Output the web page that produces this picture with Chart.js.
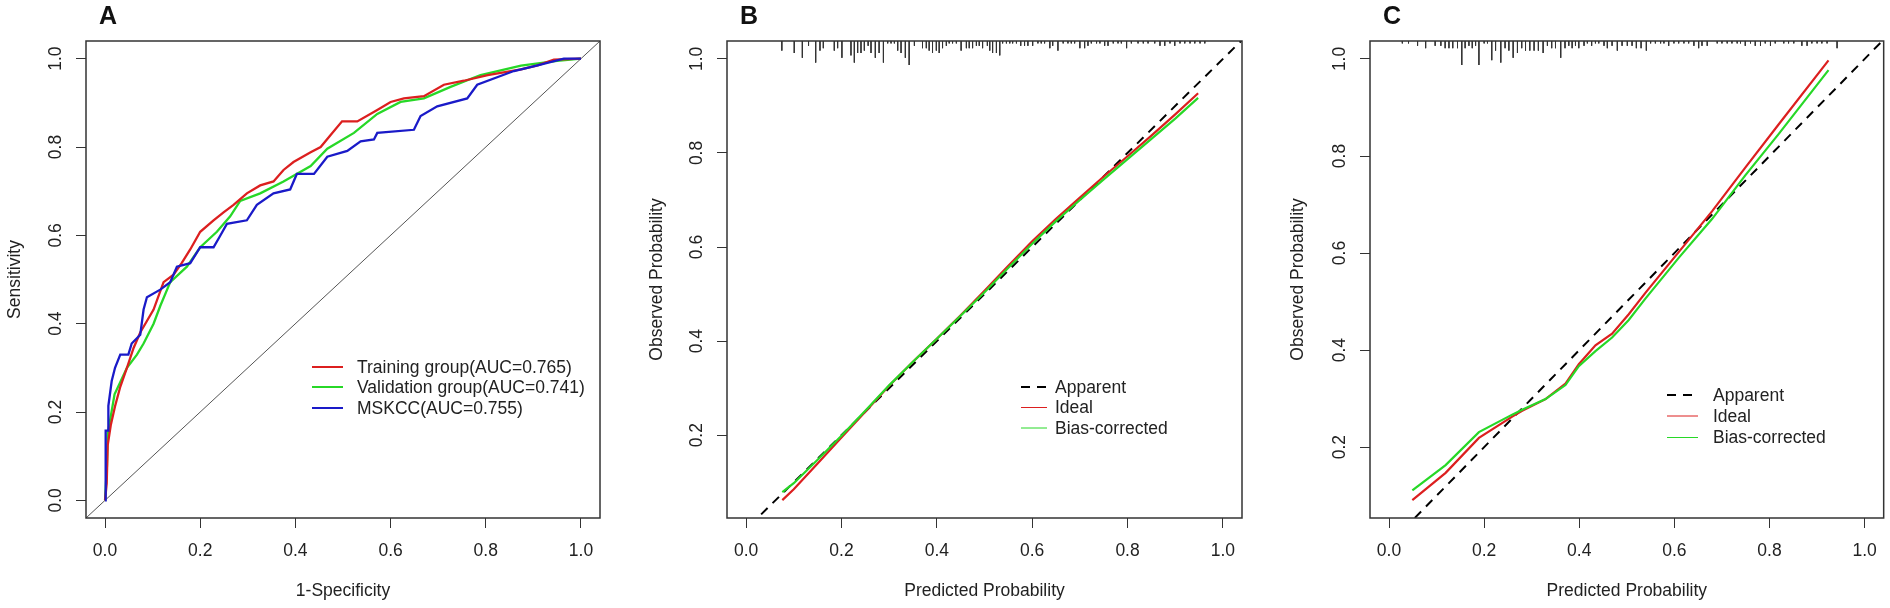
<!DOCTYPE html>
<html><head><meta charset="utf-8">
<script src="https://cdn.jsdelivr.net/npm/chart.js@4.4.1/dist/chart.umd.min.js"></script>
<style>
html,body{margin:0;padding:0;background:#fff;width:1890px;height:608px;overflow:hidden}
canvas{position:absolute;top:0}
</style></head><body>
<canvas id="cA" width="640" height="608" style="left:0px;width:640px;height:608px"></canvas>
<canvas id="cB" width="620" height="608" style="left:640px;width:620px;height:608px"></canvas>
<canvas id="cC" width="630" height="608" style="left:1260px;width:630px;height:608px"></canvas>
<script>
// ---------- DATA ----------
const xTicks = [0, 0.2, 0.4, 0.6, 0.8, 1.0];
const yTicksRoc = [0, 0.2, 0.4, 0.6, 0.8, 1.0];
const yTicksCal = [0.2, 0.4, 0.6, 0.8, 1.0];
const refLine = [-0.04, 1.04];   // y = x reference line

// Panel A: ROC curves
const trainFpr = [0,0.002,0.0035,0.0056,0.012,0.021,0.032,0.046,0.06,0.074,0.088,0.102,0.123,0.144,0.161,0.179,0.2,0.228,0.249,0.27,0.298,0.326,0.354,0.375,0.396,0.432,0.453,0.474,0.498,0.53,0.572,0.6,0.628,0.67,0.712,0.754,0.804,0.874,0.909,0.943,1.0];
const trainTpr = [0,0,0.038,0.125,0.17,0.213,0.257,0.30,0.345,0.38,0.406,0.432,0.494,0.511,0.537,0.568,0.608,0.634,0.652,0.669,0.695,0.713,0.722,0.748,0.766,0.788,0.80,0.827,0.858,0.858,0.884,0.902,0.91,0.915,0.941,0.95,0.963,0.976,0.985,0.998,1.0];
const valFpr = [0,0.002,0.004,0.0056,0.02,0.046,0.067,0.081,0.102,0.116,0.137,0.172,0.2,0.235,0.263,0.284,0.326,0.375,0.432,0.467,0.523,0.572,0.621,0.67,0.726,0.789,0.874,0.95,1.0];
const valTpr = [0,0,0.078,0.15,0.24,0.30,0.33,0.355,0.40,0.44,0.494,0.529,0.573,0.608,0.643,0.678,0.695,0.722,0.757,0.796,0.832,0.875,0.902,0.91,0.936,0.963,0.984,0.995,1.0];
const mskFpr = [0,0,0.002,0.002,0.007,0.007,0.014,0.021,0.032,0.049,0.056,0.074,0.081,0.088,0.116,0.137,0.151,0.179,0.2,0.228,0.242,0.256,0.298,0.319,0.354,0.389,0.403,0.439,0.467,0.509,0.537,0.565,0.572,0.649,0.663,0.698,0.761,0.782,0.859,0.909,0.964,1.0];
const mskTpr = [0,0.066,0.066,0.158,0.158,0.214,0.27,0.30,0.33,0.33,0.355,0.375,0.432,0.46,0.477,0.494,0.529,0.537,0.573,0.573,0.599,0.626,0.634,0.669,0.695,0.704,0.739,0.739,0.778,0.791,0.813,0.817,0.832,0.839,0.870,0.892,0.910,0.941,0.972,0.985,1.0,1.0];

// Panel B: calibration (training)
const calBx   = [0.076,0.1,0.15,0.2,0.25,0.3,0.35,0.4,0.45,0.5,0.55,0.6,0.65,0.7,0.75,0.8,0.85,0.9,0.948];
const idealB  = [0.062,0.085,0.14,0.195,0.25,0.305,0.356,0.405,0.455,0.507,0.56,0.612,0.66,0.705,0.75,0.793,0.837,0.882,0.927];
const biasB   = [0.079,0.098,0.148,0.199,0.252,0.306,0.356,0.405,0.454,0.504,0.556,0.607,0.655,0.70,0.744,0.787,0.83,0.873,0.917];
const rugBx = [0.075,0.101,0.118,0.131,0.146,0.155,0.162,0.185,0.192,0.201,0.220,0.227,0.234,0.241,0.248,0.256,0.262,0.271,0.279,0.288,0.297,0.304,0.311,0.318,0.325,0.334,0.342,0.353,0.370,0.378,0.384,0.391,0.399,0.405,0.412,0.420,0.426,0.433,0.441,0.451,0.462,0.468,0.475,0.483,0.489,0.496,0.506,0.511,0.517,0.525,0.532,0.538,0.546,0.553,0.559,0.567,0.576,0.584,0.591,0.601,0.612,0.619,0.626,0.637,0.643,0.654,0.665,0.675,0.682,0.689,0.700,0.710,0.717,0.724,0.735,0.742,0.752,0.759,0.770,0.780,0.787,0.798,0.808,0.822,0.833,0.843,0.857,0.868,0.878,0.889,0.899,0.910,0.920,0.931,0.941,0.952,0.962];
const rugBn = [4,5,7,2,9,4,3,4,3,7,6,9,5,5,4,2,5,7,5,9,1,1,1,4,5,7,10,2,3,3,4,5,4,5,3,2,1,1,1,4,3,3,3,2,2,3,2,4,5,5,6,1,1,1,1,1,2,2,2,2,1,1,1,3,2,4,1,1,1,1,3,3,2,1,1,1,2,2,1,1,1,3,1,1,1,1,1,2,2,1,2,1,1,1,1,1,1];

// Panel C: calibration (validation)
const calCx  = [0.049,0.119,0.189,0.259,0.28,0.329,0.371,0.399,0.434,0.469,0.504,0.539,0.609,0.679,0.749,0.819,0.924];
const idealC = [0.091,0.147,0.219,0.263,0.275,0.299,0.331,0.371,0.41,0.434,0.474,0.518,0.602,0.686,0.776,0.865,0.997];
const biasC  = [0.111,0.163,0.231,0.267,0.277,0.299,0.328,0.367,0.398,0.426,0.462,0.506,0.590,0.670,0.760,0.845,0.977];
const rugCx = [0.028,0.041,0.060,0.077,0.097,0.109,0.118,0.126,0.134,0.144,0.153,0.160,0.168,0.175,0.182,0.189,0.200,0.207,0.216,0.224,0.235,0.244,0.252,0.261,0.270,0.279,0.287,0.296,0.305,0.314,0.324,0.333,0.342,0.350,0.361,0.370,0.378,0.385,0.392,0.399,0.410,0.417,0.426,0.434,0.441,0.452,0.459,0.469,0.480,0.490,0.501,0.511,0.520,0.530,0.541,0.550,0.560,0.571,0.578,0.588,0.599,0.609,0.620,0.630,0.641,0.651,0.658,0.669,0.690,0.700,0.711,0.721,0.732,0.739,0.749,0.760,0.770,0.781,0.791,0.802,0.812,0.830,0.840,0.851,0.868,0.879,0.889,0.900,0.910,0.921,0.942];
const rugCn = [1,1,2,3,2,2,3,3,3,3,10,3,2,3,2,10,1,1,8,4,9,3,4,7,5,3,4,4,4,4,5,2,3,3,7,3,2,3,2,3,2,1,2,1,1,2,3,2,4,2,2,2,3,3,4,1,1,1,1,2,1,1,1,1,2,3,2,2,1,1,1,1,1,1,2,1,2,2,1,2,1,1,1,1,2,2,1,1,1,1,3];

// ---------- STYLE / HELPERS ----------
const FONT = "'Liberation Sans', Arial, Helvetica, sans-serif";
const FS = 17.5;
const TXT = '#222';
const RED = '#dc1f1f', GREEN = '#27d827', BLUE = '#1a1ac8';
const PLOT_H = 477;      // pixel height of plot box
const RUG_PX = 2.4;      // pixels per count in spike histogram
const zip = (xs, ys) => xs.map((x, i) => ({x, y: ys[i]}));
const ref = () => refLine.map(v => ({x: v, y: v}));
function rugData(xs, ns, top, ymin) {
  const unit = RUG_PX * (top - ymin) / PLOT_H;
  const d = [];
  xs.forEach((x, i) => { d.push({x, y: top}); d.push({x, y: top - ns[i] * unit}); d.push({x, y: null}); });
  return d;
}
const fmt = v => Number(v).toFixed(1);

function xScale(title) {
  return {
    type: 'linear', min: -0.04, max: 1.04,
    afterBuildTicks: a => { a.ticks = xTicks.map(v => ({value: v})); },
    afterFit: s => { s.height = 90; },
    grid: {drawOnChartArea: false, drawTicks: true, tickLength: 10, color: '#333', lineWidth: 1},
    border: {display: false},
    ticks: {font: {family: FONT, size: FS}, color: TXT, padding: 13, maxRotation: 0, minRotation: 0, autoSkip: false, callback: fmt},
    title: {display: true, text: title, font: {family: FONT, size: FS}, color: TXT, padding: {top: 0, bottom: 6}}
  };
}
function yScale(title, min, max, ticks, width, tpad) {
  return {
    type: 'linear', min, max,
    afterBuildTicks: a => { a.ticks = ticks.map(v => ({value: v})); },
    afterFit: s => { s.width = width; },
    grid: {drawOnChartArea: false, drawTicks: true, tickLength: 10, color: '#333', lineWidth: 1},
    border: {display: false},
    ticks: {font: {family: FONT, size: FS}, color: TXT, padding: 8, minRotation: 90, maxRotation: 90, crossAlign: 'center', autoSkip: false, callback: fmt},
    title: {display: true, text: title, font: {family: FONT, size: FS}, color: TXT, padding: {top: tpad, bottom: 0}}
  };
}
function decoPlugin(letter, lx, legend) {
  return {
    id: 'deco',
    afterDatasetsDraw(chart) {
      const {ctx, chartArea: a} = chart;
      ctx.save();
      ctx.strokeStyle = '#333'; ctx.lineWidth = 1.5;
      ctx.strokeRect(a.left, a.top, a.right - a.left, a.bottom - a.top);
      ctx.restore();
    },
    afterDraw(chart) {
      const ctx = chart.ctx;
      ctx.save();
      ctx.fillStyle = '#111'; ctx.font = 'bold 25px ' + FONT;
      ctx.textAlign = 'center'; ctx.textBaseline = 'middle';
      ctx.fillText(letter, lx, 17);
      ctx.textAlign = 'left';
      ctx.font = FS + 'px ' + FONT;
      legend.items.forEach((lbl, i) => {
        const ds = chart.data.datasets.find(d => d.label === lbl);
        const y = legend.ys[i];
        ctx.save();
        ctx.strokeStyle = ds.borderColor;
        ctx.lineWidth = legend.widths[i];
        ctx.setLineDash(ds.borderDash || []);
        ctx.beginPath(); ctx.moveTo(legend.x1, y); ctx.lineTo(legend.x2, y); ctx.stroke();
        ctx.restore();
        ctx.fillStyle = TXT;
        ctx.fillText(lbl, legend.tx, y + 1);
      });
      ctx.restore();
    }
  };
}
const baseOpts = (padRight, scales) => ({
  responsive: false, animation: false, devicePixelRatio: 1,
  layout: {padding: {left: 0, top: 41, right: padRight, bottom: 0}},
  plugins: {legend: {display: false}, tooltip: {enabled: false}},
  elements: {point: {radius: 0}, line: {tension: 0}},
  scales
});
const line = (label, data, color, w, dash) => ({label, data, showLine: true, borderColor: color, backgroundColor: color, borderWidth: w, borderDash: dash || [], pointRadius: 0, fill: false, spanGaps: false});

// ---------- PANEL A ----------
new Chart(document.getElementById('cA'), {
  type: 'scatter',
  data: {datasets: [
    line('MSKCC(AUC=0.755)', zip(mskFpr, mskTpr), BLUE, 2.3),
    line('Training group(AUC=0.765)', zip(trainFpr, trainTpr), RED, 2.3),
    line('Validation group(AUC=0.741)', zip(valFpr, valTpr), GREEN, 2.3),
    line('ref', ref(), '#555', 1)
  ]},
  options: baseOpts(40, {
    x: xScale('1-Specificity'),
    y: yScale('Sensitivity', -0.04, 1.04, yTicksRoc, 86, 5)
  }),
  plugins: [decoPlugin('A', 108, {items: ['Training group(AUC=0.765)', 'Validation group(AUC=0.741)', 'MSKCC(AUC=0.755)'], x1: 312, x2: 343, tx: 357, ys: [367, 387, 408], widths: [2, 2, 2]})]
});

// ---------- PANEL B ----------
const bMin = 0.024, bMax = 1.038;
new Chart(document.getElementById('cB'), {
  type: 'scatter',
  data: {datasets: [
    line('Bias-corrected', zip(calBx, biasB), GREEN, 2.2),
    line('Ideal', zip(calBx, idealB), RED, 2.2),
    line('Apparent', ref(), '#000', 2, [9, 7]),
    line('rug', rugData(rugBx, rugBn, bMax, bMin), '#333', 1)
  ]},
  options: baseOpts(18, {
    x: xScale('Predicted Probability'),
    y: yScale('Observed Probability', bMin, bMax, yTicksCal, 87, 6.5)
  }),
  plugins: [decoPlugin('B', 109, {items: ['Apparent', 'Ideal', 'Bias-corrected'], x1: 381, x2: 407, tx: 415, ys: [387, 407.5, 428], widths: [2, 1, 1]})]
});

// ---------- PANEL C ----------
const cMin = 0.054, cMax = 1.037;
new Chart(document.getElementById('cC'), {
  type: 'scatter',
  data: {datasets: [
    line('Bias-corrected', zip(calCx, biasC), GREEN, 2.2),
    line('Ideal', zip(calCx, idealC), RED, 2.2),
    line('Apparent', ref(), '#000', 2, [9, 7]),
    line('rug', rugData(rugCx, rugCn, cMax, cMin), '#333', 1)
  ]},
  options: baseOpts(5, {
    x: xScale('Predicted Probability'),
    y: yScale('Observed Probability', cMin, cMax, yTicksCal, 110, 28)
  }),
  plugins: [decoPlugin('C', 132, {items: ['Apparent', 'Ideal', 'Bias-corrected'], x1: 407, x2: 438, tx: 453, ys: [395, 416, 437.5], widths: [2, 1, 1]})]
});
</script>
</body></html>
